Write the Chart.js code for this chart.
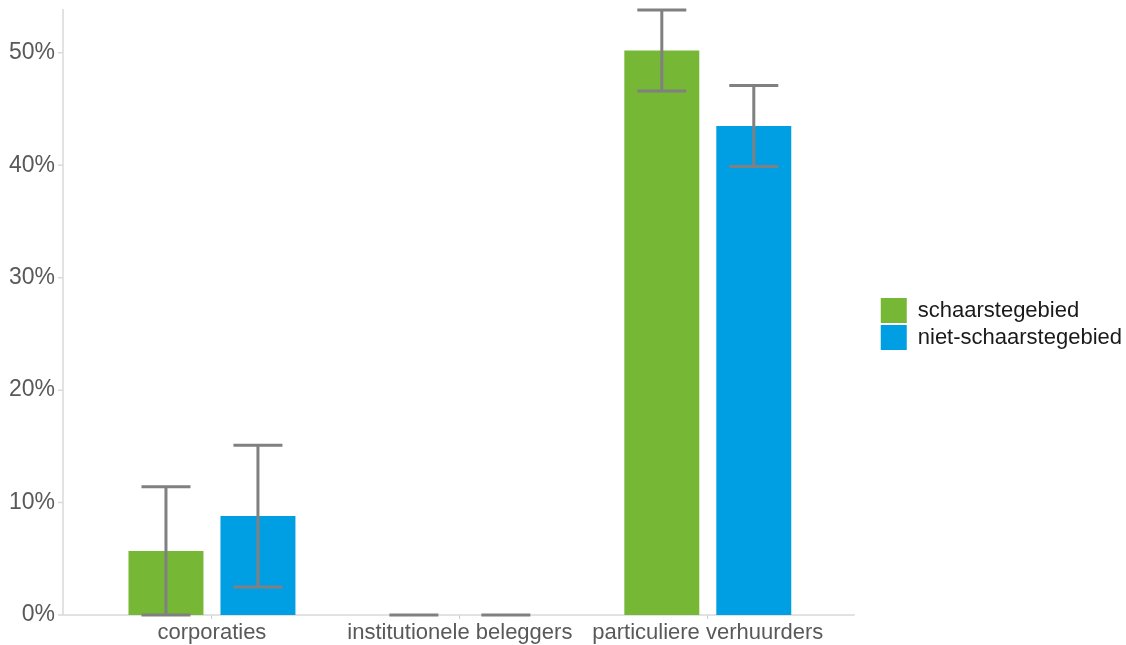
<!DOCTYPE html>
<html>
<head>
<meta charset="utf-8">
<script src="https://cdn.jsdelivr.net/npm/chart.js@4.4.0/dist/chart.umd.min.js"></script>
<style>
  body { margin: 0; background: #fff; }
  #wrap { width: 1126px; height: 645px; }
</style>
</head>
<body>
<div id="wrap"><canvas id="myChart"></canvas></div>
<script>
var categories = ['corporaties', 'institutionele beleggers', 'particuliere verhuurders'];
var seriesNames = ['schaarstegebied', 'niet-schaarstegebied'];
var schaarste = [5.7, 0, 50.2];
var nietSchaarste = [8.8, 0, 43.5];
// error bar ranges (low / high), in %
var schaarsteLow = [0, 0, 46.6];
var schaarsteHigh = [11.4, 0, 53.8];
var nietSchaarsteLow = [2.5, 0, 39.9];
var nietSchaarsteHigh = [15.1, 0, 47.1];
var yTicks = [0, 10, 20, 30, 40, 50];

var errorRanges = [
    { low: schaarsteLow, high: schaarsteHigh },
    { low: nietSchaarsteLow, high: nietSchaarsteHigh }
];

var AXIS_SHIFT = 25;
var LEGEND_SHIFT = 47;

// axis lines a bit outside the chart area, plus error bars
var extras = {
    id: 'extras',
    afterLayout: function(chart) {
        // legend sits further right than the plot padding would put it
        var lg = chart.legend;
        lg.left += LEGEND_SHIFT;
        lg.right += LEGEND_SHIFT;
        lg.top -= 3;
        lg.bottom -= 3;
    },
    beforeDatasetsDraw: function(chart) {
        var ctx = chart.ctx, a = chart.chartArea, y = chart.scales.y;
        var x0 = a.left - AXIS_SHIFT;
        ctx.save();
        ctx.strokeStyle = '#d9d9d9';
        ctx.lineWidth = 1.5;
        ctx.beginPath();
        ctx.moveTo(x0, a.top);
        ctx.lineTo(x0, a.bottom);
        ctx.lineTo(a.right + 23, a.bottom);
        yTicks.forEach(function(t) {
            var py = y.getPixelForValue(t);
            ctx.moveTo(x0 - 5, py);
            ctx.lineTo(x0, py);
        });
        ctx.stroke();
        ctx.restore();
    },
    afterDatasetsDraw: function(chart) {
        var ctx = chart.ctx, y = chart.scales.y;
        ctx.save();
        ctx.strokeStyle = '#808080';
        ctx.lineWidth = 3;
        errorRanges.forEach(function(r, i) {
            chart.getDatasetMeta(i).data.forEach(function(bar, j) {
                var yl = y.getPixelForValue(r.low[j]);
                var yh = y.getPixelForValue(r.high[j]);
                ctx.beginPath();
                ctx.moveTo(bar.x, yl);
                ctx.lineTo(bar.x, yh);
                ctx.moveTo(bar.x - 24.5, yl);
                ctx.lineTo(bar.x + 24.5, yl);
                ctx.moveTo(bar.x - 24.5, yh);
                ctx.lineTo(bar.x + 24.5, yh);
                ctx.stroke();
            });
        });
        ctx.restore();
    }
};

var chart = new Chart(document.getElementById('myChart'), {
    type: 'bar',
    data: {
        labels: categories,
        datasets: [{
            label: seriesNames[0],
            data: schaarste,
            backgroundColor: '#76b736'
        }, {
            label: seriesNames[1],
            data: nietSchaarste,
            backgroundColor: '#009fe3'
        }]
    },
    options: {
        responsive: true,
        maintainAspectRatio: false,
        animation: false,
        categoryPercentage: 0.742,
        barPercentage: 0.815,
        layout: {
            autoPadding: false,
            padding: { top: 9, right: 41, bottom: 0, left: 0 }
        },
        plugins: {
            tooltip: { enabled: false },
            legend: {
                position: 'right',
                labels: {
                    boxWidth: 26,
                    boxHeight: 25,
                    padding: 2,
                    color: '#1a1a1a',
                    font: { family: 'Liberation Sans, Arial', size: 22 }
                }
            }
        },
        scales: {
            x: {
                border: { display: false },
                grid: {
                    offset: false,
                    drawOnChartArea: false,
                    tickLength: 4,
                    color: '#cccccc'
                },
                afterFit: function(scale) { scale.height = 30; },
                ticks: {
                    padding: 1,
                    maxRotation: 0,
                    color: '#595959',
                    font: { family: 'Liberation Sans, Arial', size: 22 }
                }
            },
            y: {
                min: 0,
                max: 53.9,
                border: { display: false },
                grid: { display: false },
                afterFit: function(scale) {
                    scale.width = 88;
                    scale.paddingTop = 0;
                    scale.paddingBottom = 0;
                },
                afterBuildTicks: function(scale) {
                    scale.ticks = yTicks.map(function(v) { return { value: v }; });
                },
                ticks: {
                    padding: 25,
                    color: '#595959',
                    font: { family: 'Liberation Sans, Arial', size: 23 },
                    callback: function(v) { return v + '%'; }
                }
            }
        }
    },
    plugins: [extras]
});
</script>
</body>
</html>
